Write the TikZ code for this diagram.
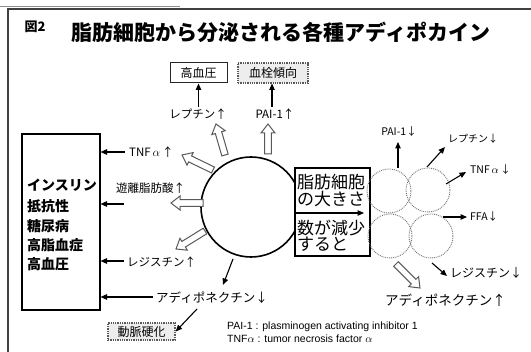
\documentclass[tikz,border=0pt]{standalone}
\usepackage{fontspec}
\newfontfamily\jp{Noto Sans CJK JP}
\newfontfamily\ar{Liberation Sans}
\usetikzlibrary{calc,arrows.meta}
\newcommand\hollowarrow[2]{%
  \path ($(#2)!9pt!(#1)$) coordinate (neckP);
  \draw[harrow] ($(#1)!3.3pt!90:(#2)$) -- ($(neckP)!3.3pt!90:(#2)$) -- ($(neckP)!7pt!90:(#2)$) -- (#2)
     -- ($(neckP)!7pt!-90:(#2)$) -- ($(neckP)!3.3pt!-90:(#2)$) -- ($(#1)!3.3pt!-90:(#2)$) -- cycle;}
\begin{document}
\begin{tikzpicture}[x=1pt,y=-1pt,
  lbl/.style={font=\jp\fontsize{11.5}{13}\selectfont, inner sep=0pt},
  arr/.style={-{Triangle[length=6.5pt,width=5.5pt]}, line width=1.1pt},
  harrow/.style={draw=black!65, line width=1pt, fill=white, line join=miter},
  smallc/.style={circle, draw=black!55, densely dotted, line width=0.9pt, minimum size=44pt, inner sep=0pt},
  graybox/.style={draw=black!65, densely dotted, line width=1.3pt, fill=black!7, inner sep=2pt},
  boxtxt/.style={font=\jp\bfseries\fontsize{14}{16}\selectfont, inner sep=0pt, anchor=west},
  ctxt/.style={font=\jp\fontsize{17}{19}\selectfont, inner sep=0pt, anchor=west}]
\useasboundingbox (0,0) rectangle (531,352);
\fill[white] (0,0) rectangle (531,352);
% frame
\draw[black!45, line width=0.8pt] (0,6.5) -- (180,6.5);
\draw[black!75, line width=2pt] (8,352) -- (8,9.5) -- (531,9.5);
% title
\node[font=\jp\bfseries\fontsize{13}{15}\selectfont, inner sep=0pt] (fig) at (35,27) {図2};
\node[font=\jp\bfseries\fontsize{21}{24}\selectfont, inner sep=0pt] (title) at (281,32) {脂肪細胞から分泌される各種アディポカイン};
% left box
\node[draw, line width=1.1pt, minimum width=78pt, minimum height=176pt, inner sep=0pt] (lbox) at (61,222) {};
\node[boxtxt] (l1) at (27,185) {インスリン};
\node[boxtxt] (l2) at (27,206) {抵抗性};
\node[boxtxt] (l3) at (27,226) {糖尿病};
\node[boxtxt] (l4) at (27,245) {高脂血症};
\node[boxtxt] (l5) at (27,264) {高血圧};
% big circle and center box
\node[circle, draw, line width=1.6pt, minimum size=100pt, inner sep=0pt] (bc) at (251,207) {};
\node[draw, fill=white, line width=1.2pt, minimum width=75pt, minimum height=88pt, inner sep=0pt] (cbox) at (332.5,212) {};
\node[ctxt] (c1) at (297,182) {脂肪細胞};
\node[ctxt] (c2) at (297,199) {の大きさ};
\node[ctxt] (c3) at (297,228) {数が減少};
\node[ctxt] (c4) at (297,244) {すると};
\coordinate (cbw) at (295,213);
\coordinate (cbe) at (364,213);
\draw[arr] (cbw) -- (cbe);
% small circles
\node[smallc] (s1) at (389,191) {};
\node[smallc] (s2) at (428,190) {};
\node[smallc] (s3) at (390,236) {};
\node[smallc] (s4) at (431,236) {};
% top boxes
\node[draw=black!85, line width=1pt, minimum width=57pt, minimum height=20pt, inner sep=0pt, font=\jp\fontsize{12}{14}\selectfont] (hbp) at (198.5,73) {高血圧};
\node[graybox, minimum width=70pt, minimum height=20pt, inner sep=0pt, font=\jp\fontsize{12}{14}\selectfont] (thr) at (273,73) {血栓傾向};
% labels above circle
\node[lbl] (lepU) at (198,114) {レプチン↑};
\node[lbl] (paiU) at (275,114) {PAI-1↑};
\draw[arr] (lepU.north -| hbp.south) ++(0,-1) -- (hbp.south);
\draw[arr] (272,107) -- (272,83.5);
% hollow arrows from big circle
\coordinate (h1a) at (268,154); \coordinate (h1b) at (268,124);
\coordinate (h2a) at (225,155); \coordinate (h2b) at (216,124);
\coordinate (h3a) at (213,170); \coordinate (h3b) at (182,155);
\coordinate (h4a) at (203,203); \coordinate (h4b) at (171,203);
\coordinate (h5a) at (205,231); \coordinate (h5b) at (176,249);
\coordinate (h6a) at (396,264); \coordinate (h6b) at (420,288);
\hollowarrow{h1a}{h1b}
\hollowarrow{h2a}{h2b}
\hollowarrow{h3a}{h3b}
\hollowarrow{h4a}{h4b}
\hollowarrow{h5a}{h5b}
\hollowarrow{h6a}{h6b}
% left labels and arrows
\node[lbl, anchor=west] (tnfU) at (129,152) {TNF\,$\alpha$\,↑};
\node[lbl, anchor=west] (ffaU) at (116,188) {遊離脂肪酸↑};
\node[lbl, anchor=west] (resU) at (127,262) {レジスチン↑};
\node[lbl, anchor=west, font=\jp\fontsize{12.5}{14}\selectfont] (adiD) at (156,298) {アディポネクチン↓};
\coordinate (t1) at (125,152); \coordinate (t2) at (124,204);
\coordinate (t3) at (124,261); \coordinate (t4) at (153,297);
\draw[arr] (t1) -- (t1 -| lbox.east);
\draw[arr] (t2) -- (t2 -| lbox.east);
\draw[arr] (t3) -- (t3 -| lbox.east);
\draw[arr] (t4) -- (t4 -| lbox.east);
% bottom arrows
\coordinate (b1a) at (233,259); \coordinate (b1b) at (223,285);
\draw[arr] (b1a) -- (b1b);
\node[graybox, minimum width=67pt, minimum height=17pt, inner sep=0pt, font=\jp\fontsize{12}{14}\selectfont] (ath) at (141.5,331.5) {動脈硬化};
\coordinate (b2a) at (197,309);
\draw[arr] (b2a) -- (ath.east);
% right labels and arrows
\node[lbl, font=\jp\fontsize{10.5}{12}\selectfont] (paiD) at (399,132) {PAI-1↓};
\node[lbl, anchor=west, font=\jp\fontsize{10}{12}\selectfont] (lepD) at (448,139) {レプチン↓};
\node[lbl, anchor=west, font=\jp\fontsize{10.5}{12}\selectfont] (tnfD) at (470,170) {TNF\,$\alpha$\,↓};
\node[lbl, anchor=west, font=\jp\fontsize{10.5}{12}\selectfont] (ffaD) at (470,217) {FFA↓};
\node[lbl, anchor=west, font=\jp\fontsize{12}{14}\selectfont] (resD) at (450,273) {レジスチン↓};
\node[lbl, anchor=west, font=\jp\fontsize{13.5}{15}\selectfont] (adiU) at (385,300) {アディポネクチン↑};
\coordinate (r1a) at (398,168); \coordinate (r1b) at (398,142);
\coordinate (r2a) at (427,167); \coordinate (r2b) at (445,147);
\coordinate (r3a) at (446,184); \coordinate (r3b) at (466,172);
\coordinate (r4a) at (443,217); \coordinate (r4b) at (467,217);
\coordinate (r5a) at (432,263); \coordinate (r5b) at (447,276);
\draw[arr] (r1a) -- (r1b);
\draw[arr] (r2a) -- (r2b);
\draw[arr] (r3a) -- (r3b);
\draw[arr] (r4a) -- (r4b);
\draw[arr] (r5a) -- (r5b);
% legend
\node[font=\ar\fontsize{10.5}{12}\selectfont, inner sep=0pt, anchor=west] (leg1) at (227,327) {PAI-1 : plasminogen activating inhibitor 1};
\node[font=\ar\fontsize{10.5}{12}\selectfont, inner sep=0pt, anchor=west] (leg2) at (227,339) {TNF$\alpha$ : tumor necrosis factor $\alpha$};
\end{tikzpicture}
\end{document}
